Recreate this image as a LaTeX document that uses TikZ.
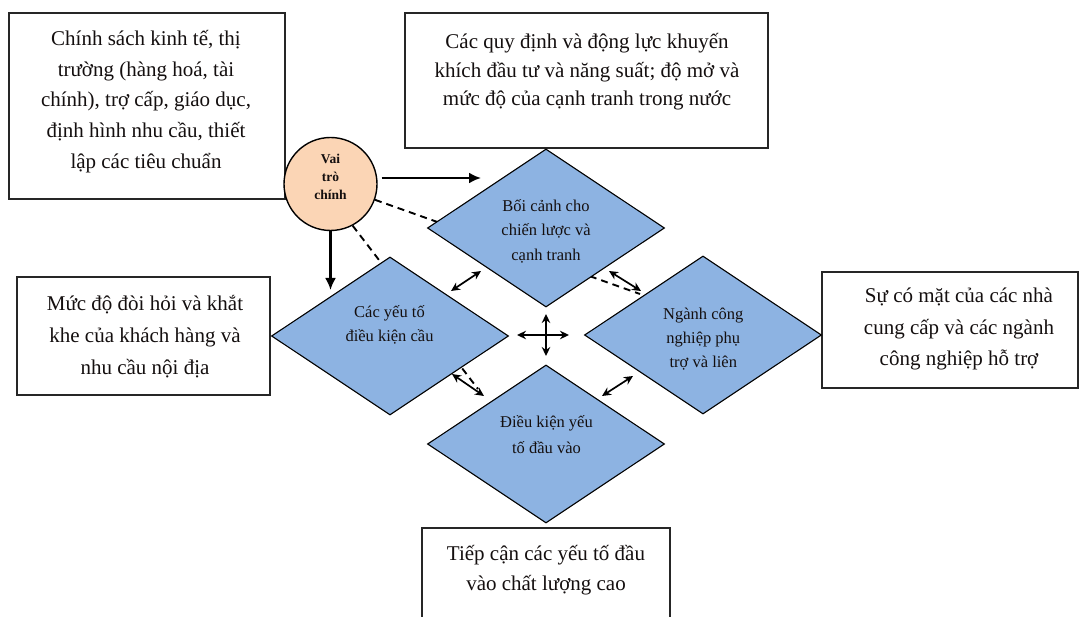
\documentclass[tikz,border=0pt]{standalone}
\usepackage{fontspec}
\setmainfont{Liberation Serif}
\usetikzlibrary{shapes.geometric,arrows.meta}
\definecolor{dfill}{RGB}{141,179,226}
\definecolor{peach}{RGB}{251,213,181}
\definecolor{tcol}{RGB}{20,15,15}
\begin{document}
\begin{tikzpicture}[x=1pt,y=-1pt,
  box/.style={draw=black!85, line width=1.6pt, inner sep=0pt, fill=white},
  dia/.style={diamond, draw=black, line width=1.1pt, fill=dfill, inner sep=0pt, minimum width=237pt, minimum height=158pt},
  btxt/.style={align=center, inner sep=0pt, text=tcol},
  dtxt/.style={align=center, inner sep=0pt, text=tcol},
  arr/.style={-{Latex[length=12pt,width=11pt]}, line width=2.2pt},
  dbl/.style={{Stealth[length=9pt,width=8.5pt]}-{Stealth[length=9pt,width=8.5pt]}, line width=1.7pt},
  dsh/.style={dash pattern=on 7pt off 5pt, line width=1.9pt}]
\clip (0,0) rectangle (1089,617);
\fill[white] (0,0) rectangle (1089,617);
% boxes
\node[box, minimum width=276pt, minimum height=186pt] (b1) at (147,106) {};
\node[box, minimum width=363pt, minimum height=135pt] (b2) at (586.5,80.5) {};
\node[box, minimum width=253pt, minimum height=118pt] (b3) at (143.5,336) {};
\node[box, minimum width=256pt, minimum height=116pt] (b4) at (950,330) {};
\node[box, minimum width=248pt, minimum height=110pt] (b5) at (546,583) {};
% circle
\node[circle, draw=black, line width=1.4pt, fill=peach, minimum size=93pt, inner sep=0pt] (circ) at (330.5,184) {};
% dashed lines (behind diamonds)
\coordinate (d1) at (640,294);
\coordinate (d2) at (478,389);
\draw[dsh] (circ) -- (d1);
\draw[dsh] (circ.-62) -- (d2);
% diamonds
\node[dia] (dt) at (546,228) {};
\node[dia] (dl) at (390,336) {};
\node[dia] (dr) at (703,335) {};
\node[dia] (db) at (546,444) {};
% diamond texts
\node[dtxt, font=\fontsize{16.5}{24.6}\selectfont] (tt) at (546,231.3) {Bối cảnh cho\\chiến lược và\\cạnh tranh};
\node[dtxt, font=\fontsize{16.5}{24}\selectfont] (tl) at (389.5,325.3) {Các yếu tố\\điều kiện cầu};
\node[dtxt, font=\fontsize{16.5}{24.2}\selectfont] (tr) at (703.3,339.2) {Ngành công\\nghiệp phụ\\trợ và liên};
\node[dtxt, font=\fontsize{16.5}{25.6}\selectfont] (tb) at (546.5,434.5) {Điều kiện yếu\\tố đầu vào};
% box texts
\node[btxt, font=\fontsize{21}{30.8}\selectfont] (t1) at (146,101.5) {Chính sách kinh tế, thị\\trường (hàng hoá, tài\\chính), trợ cấp, giáo dục,\\định hình nhu cầu, thiết\\lập các tiêu chuẩn};
\node[btxt, font=\fontsize{21}{28.3}\selectfont] (t2) at (587,71.7) {Các quy định và động lực khuyến\\khích đầu tư và năng suất; độ mở và\\mức độ của cạnh tranh trong nước};
\node[btxt, font=\fontsize{21}{31.7}\selectfont] (t3) at (145,336.7) {Mức độ đòi hỏi và khắt\\khe của khách hàng và\\nhu cầu nội địa};
\node[btxt, font=\fontsize{21}{31.6}\selectfont] (t4) at (959,329) {Sự có mặt của các nhà\\cung cấp và các ngành\\công nghiệp hỗ trợ};
\node[btxt, font=\fontsize{21}{30}\selectfont] (t5) at (546,570) {Tiếp cận các yếu tố đầu\\vào chất lượng cao};
% circle text
\node[btxt, font=\bfseries\fontsize{13.5}{18}\selectfont] (ct) at (330.5,177) {Vai\\trò\\chính};
% arrows from circle
\coordinate (a1e) at (481,178);
\coordinate (a2e) at (330.5,290);
\draw[arr] ([yshift=6pt,xshift=4pt]circ.east) -- (a1e);
\draw[arr] (circ.south) -- (a2e);
% double arrows between diamonds
\coordinate (p1a) at (451,291); \coordinate (p1b) at (481,271);
\coordinate (p2a) at (609,271); \coordinate (p2b) at (641,291);
\coordinate (p3a) at (452,374); \coordinate (p3b) at (484,396);
\coordinate (p4a) at (602,396); \coordinate (p4b) at (633,376);
\draw[dbl] (p1a) -- (p1b);
\draw[dbl] (p2a) -- (p2b);
\draw[dbl] (p3a) -- (p3b);
\draw[dbl] (p4a) -- (p4b);
% centre cross
\coordinate (cl) at (517,335); \coordinate (cr) at (569,335);
\coordinate (cu) at (546,314); \coordinate (cd) at (546,356);
\draw[dbl] (cl) -- (cr);
\draw[dbl] (cu) -- (cd);
\end{tikzpicture}
\end{document}
